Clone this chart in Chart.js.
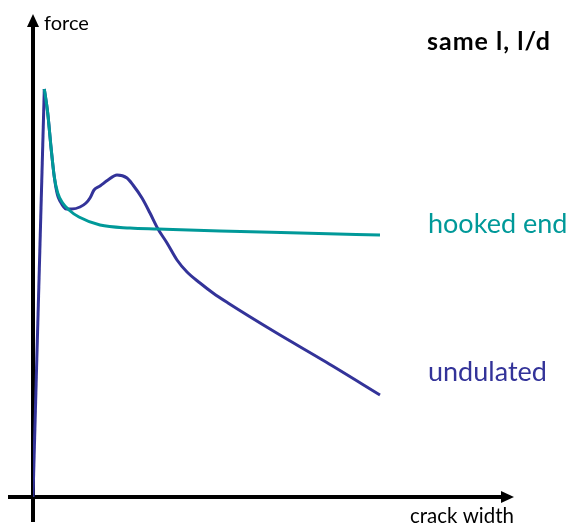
<!DOCTYPE html>
<html>
<head>
<meta charset="utf-8">
<script src="https://cdn.jsdelivr.net/npm/chart.js@4"></script>
<style>
  html, body { margin: 0; padding: 0; background: #fff; }
  #wrap { width: 568px; height: 524px; }
</style>
</head>
<body>
<div id="wrap"><canvas id="chart"></canvas></div>
<script>
// crack width (x) vs force (y), arbitrary units 0..100
const riseX = [0, 2.35];
const riseY = [0, 84.47];

const undulatedX = [2.35, 3.06, 3.74, 4.43, 5.09, 5.61, 6.86, 8.11, 9.77, 11.02, 11.85, 12.68, 13.93, 15.59, 17.46, 19.54, 20.79, 22.66, 24.32, 25.99, 27.86, 29.94, 32.02, 34.72, 37.42, 40.54, 50.31, 60.91, 72.14];
const undulatedY = [84.47, 79.50, 72.46, 66.25, 62.53, 61.28, 59.63, 59.63, 60.04, 60.87, 61.90, 63.56, 64.39, 65.63, 66.67, 66.05, 64.60, 61.90, 58.80, 55.49, 52.59, 49.07, 46.58, 44.31, 42.24, 40.17, 34.16, 27.95, 21.12];

const hookedX = [2.35, 3.06, 3.74, 4.43, 5.14, 6.17, 7.48, 9.56, 13.93, 20.17, 25.99, 38.88, 55.51, 72.14];
const hookedY = [84.47, 79.50, 72.46, 66.25, 62.94, 60.87, 59.42, 57.97, 56.31, 55.69, 55.49, 55.07, 54.66, 54.24];

const axisLabels = { x: 'crack width', y: 'force' };
const title = 'same l, l/d';
const seriesNames = ['hooked end', 'undulated'];

const BLUE = '#333399';
const TEAL = '#009999';

const toPoints = (xs, ys) => xs.map((x, i) => ({ x, y: ys[i] }));

const drawAxes = {
  id: 'drawAxes',
  beforeDatasetsDraw(chart) {
    const { ctx, chartArea: a } = chart;
    ctx.save();
    ctx.strokeStyle = '#000';
    ctx.fillStyle = '#000';
    ctx.lineWidth = 4;
    // y axis
    ctx.beginPath();
    ctx.moveTo(a.left, a.bottom + 25);
    ctx.lineTo(a.left, a.top + 10);
    ctx.stroke();
    ctx.beginPath();
    ctx.moveTo(a.left, a.top);
    ctx.lineTo(a.left - 6, a.top + 13);
    ctx.lineTo(a.left + 6, a.top + 13);
    ctx.closePath();
    ctx.fill();
    // x axis
    ctx.beginPath();
    ctx.moveTo(a.left - 25, a.bottom);
    ctx.lineTo(a.right - 10, a.bottom);
    ctx.stroke();
    ctx.beginPath();
    ctx.moveTo(a.right, a.bottom);
    ctx.lineTo(a.right - 13, a.bottom - 6);
    ctx.lineTo(a.right - 13, a.bottom + 6);
    ctx.closePath();
    ctx.fill();
    ctx.restore();
  },
  afterDraw(chart) {
    const { ctx, chartArea: a } = chart;
    ctx.save();
    ctx.textBaseline = 'alphabetic';
    ctx.textAlign = 'left';
    ctx.fillStyle = '#000';
    ctx.font = '20px Lato';
    ctx.fillText(axisLabels.y, a.left + 11, 30);
    ctx.textAlign = 'right';
    ctx.font = '20.5px Lato';
    ctx.fillText(axisLabels.x, a.right, 523);
    ctx.textAlign = 'left';
    ctx.font = 'bold 25px Lato';
    ctx.letterSpacing = '1px';
    ctx.fillText(title, 427, 50);
    ctx.letterSpacing = '0px';
    ctx.font = '27px Lato';
    ctx.fillStyle = TEAL;
    ctx.fillText(seriesNames[0], 428, 233);
    ctx.fillStyle = BLUE;
    ctx.fillText(seriesNames[1], 428, 381);
    ctx.restore();
  }
};

new Chart(document.getElementById('chart'), {
  type: 'line',
  data: {
    datasets: [
      {
        label: seriesNames[0],
        data: toPoints(hookedX, hookedY),
        borderColor: TEAL,
        borderWidth: 3,
        pointRadius: 0,
        cubicInterpolationMode: 'monotone',
        order: 0,
      },
      {
        label: seriesNames[1],
        data: toPoints(undulatedX, undulatedY),
        borderColor: BLUE,
        borderWidth: 3,
        pointRadius: 0,
        cubicInterpolationMode: 'monotone',
        order: 1,
      },
      {
        label: 'rise',
        data: toPoints(riseX, riseY),
        borderColor: BLUE,
        borderWidth: 3,
        pointRadius: 0,
        tension: 0,
        order: 2,
      },
    ],
  },
  options: {
    responsive: true,
    maintainAspectRatio: false,
    animation: false,
    layout: { padding: { left: 33, top: 14, right: 54, bottom: 27 } },
    scales: {
      x: { type: 'linear', min: 0, max: 100, display: false },
      y: { type: 'linear', min: 0, max: 100, display: false },
    },
    plugins: {
      legend: { display: false },
      tooltip: { enabled: false },
    },
  },
  plugins: [drawAxes],
});
</script>
</body>
</html>
